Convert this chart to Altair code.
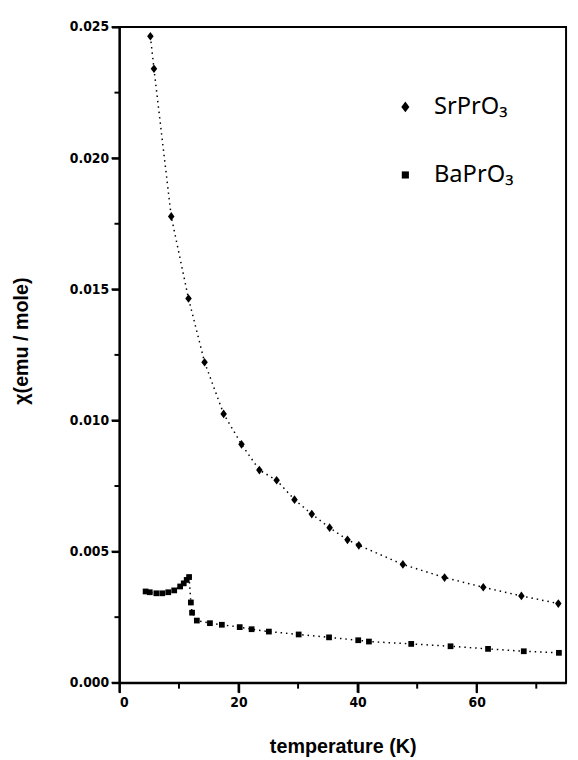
import altair as alt
import pandas as pd

# SrPrO3 data (temperature K, chi emu/mole)
sr_T = [5.2, 5.8, 8.7, 11.6, 14.3, 17.5, 20.5, 23.5, 26.4, 29.4, 32.3, 35.3, 38.3,
        40.2, 47.6, 54.6, 61.1, 67.5, 73.7]
sr_chi = [0.02465, 0.02341, 0.01778, 0.01465, 0.01222, 0.01025, 0.00909, 0.00811,
          0.00772, 0.00698, 0.00643, 0.00591, 0.00545, 0.00524, 0.00451, 0.00401,
          0.00364, 0.00331, 0.00302]

# BaPrO3 data
ba_T = [4.4, 5.1, 6.2, 7.2, 8.2, 9.2, 10.2, 10.8, 11.3, 11.7, 12.0, 12.2, 13.0, 15.2,
        17.2, 20.2, 22.2, 25.1, 30.1, 35.2, 40.1, 41.9, 49.0, 55.6, 61.9, 67.9, 73.8]
ba_chi = [0.00348, 0.00345, 0.00341, 0.00341, 0.00345, 0.00352, 0.00367, 0.00379,
          0.00392, 0.00403, 0.00306, 0.00267, 0.00237, 0.00227, 0.00221, 0.00212,
          0.00204, 0.00195, 0.00184, 0.00173, 0.00162, 0.00157, 0.00148, 0.00139,
          0.00129, 0.00120, 0.00114]

series_names = ["SrPrO₃", "BaPrO₃"]
x_major = [0, 20, 40, 60]
x_minor = [10, 30, 50, 70]
y_major = [0, 0.005, 0.01, 0.015, 0.02, 0.025]
y_minor = [0.0025, 0.0075, 0.0125, 0.0175, 0.0225]

W, H = 453, 665

df = pd.concat([
    pd.DataFrame({"T": sr_T, "chi": sr_chi, "series": series_names[0]}),
    pd.DataFrame({"T": ba_T, "chi": ba_chi, "series": series_names[1]}),
])

tick_font = "Liberation Sans Narrow, DejaVu Sans Condensed, Arial Narrow, sans-serif"
title_font = "Liberation Sans, Arial, sans-serif"

common = dict(
    grid=False, domainColor="black", domainWidth=2, tickColor="black", tickWidth=2,
    labelFont=tick_font, labelFontWeight="bold", labelFontSize=14, labelColor="black",
    titleFont=title_font, titleFontWeight="bold", titleFontSize=20, titleColor="black",
)

x_scale = alt.Scale(domain=[0, 75], nice=False, zero=False)
y_scale = alt.Scale(domain=[0, 0.025], nice=False)

x_enc = alt.X("T:Q", scale=x_scale,
              axis=alt.Axis(orient="bottom", values=x_major, format="d", tickSize=10,
                            labelPadding=3, title="temperature  (K)", titlePadding=28,
                            **common))
y_enc = alt.Y("chi:Q", scale=y_scale,
              axis=alt.Axis(orient="left", values=y_major, format=".3f", tickSize=8,
                            labelPadding=3, title="χ(emu / mole)", titlePadding=38,
                            titleY=318, **common))

# tick marks drawn at the tick values through the shared scales
x_ticks_major = alt.Chart(pd.DataFrame({"v": x_major})).mark_rule(color="black", strokeWidth=2).encode(
    x=alt.X("v:Q", scale=x_scale, axis=None), y=alt.value(H), y2=alt.value(H + 10))
x_ticks_minor = alt.Chart(pd.DataFrame({"v": x_minor})).mark_rule(color="black", strokeWidth=2).encode(
    x=alt.X("v:Q", scale=x_scale, axis=None), y=alt.value(H), y2=alt.value(H + 6))
y_ticks_major = alt.Chart(pd.DataFrame({"v": y_major})).mark_rule(color="black", strokeWidth=2).encode(
    y=alt.Y("v:Q", scale=y_scale, axis=None), x=alt.value(0), x2=alt.value(-8))
y_ticks_minor = alt.Chart(pd.DataFrame({"v": y_minor})).mark_rule(color="black", strokeWidth=2).encode(
    y=alt.Y("v:Q", scale=y_scale, axis=None), x=alt.value(0), x2=alt.value(-5))

lines = alt.Chart(df).mark_line(
    color="black", strokeDash=[1.5, 4], strokeWidth=1.5
).encode(x=x_enc, y=y_enc, detail="series:N", order="T:Q")

diamond = "M-0.75,0L0,-1L0.75,0L0,1Z"
square = "M-0.66,-0.66H0.66V0.66H-0.66Z"

points = alt.Chart(df).mark_point(filled=True, color="black", opacity=1, size=78).encode(
    x=alt.X("T:Q", scale=x_scale, axis=None),
    y=alt.Y("chi:Q", scale=y_scale, axis=None),
    shape=alt.Shape("series:N",
                    scale=alt.Scale(domain=series_names, range=[diamond, square]),
                    legend=alt.Legend(orient="none", legendX=278, legendY=69, title=None,
                                      labelFont="Noto Sans, DejaVu Sans, sans-serif",
                                      labelFontSize=24, labelColor="black",
                                      symbolSize=120, symbolFillColor="black",
                                      symbolStrokeColor="black", symbolStrokeWidth=0,
                                      rowPadding=45, labelOffset=17)),
)

chart = alt.layer(
    lines, points, x_ticks_major, x_ticks_minor, y_ticks_major, y_ticks_minor
).resolve_axis(
    x="independent", y="independent"
).properties(
    width=W, height=H,
    autosize=alt.AutoSizeParams(type="none"),
    padding={"left": 113, "top": 14, "right": 4, "bottom": 70},
).configure_view(
    stroke="black", strokeWidth=2
)

chart.save("out.html", embed_options={"renderer": "svg", "actions": False})
